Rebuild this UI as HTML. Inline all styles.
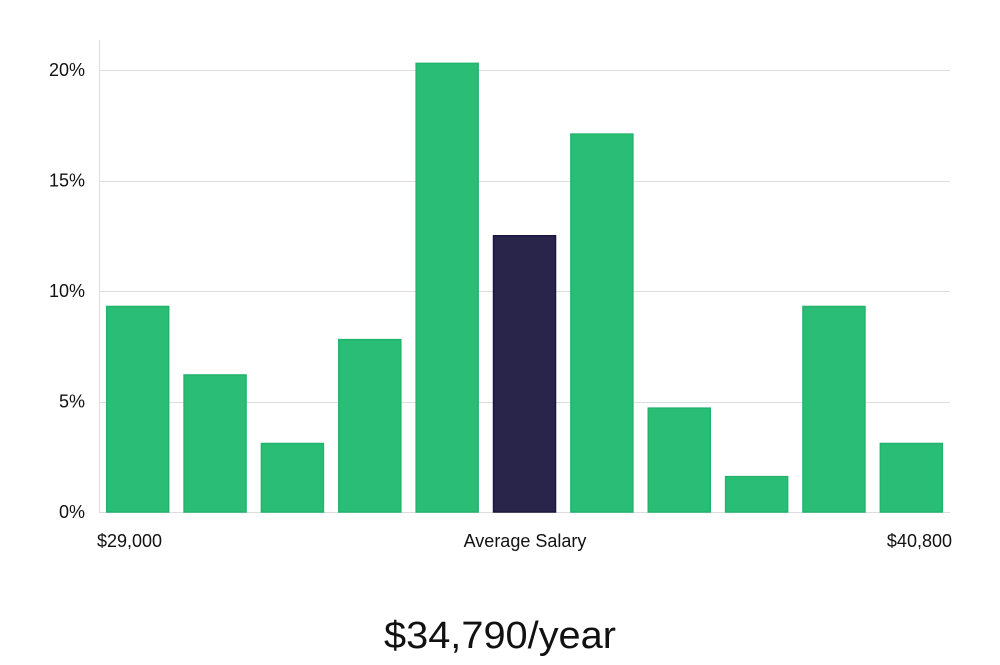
<!DOCTYPE html>
<html><head><meta charset="utf-8"><style>
body{margin:0;background:#fff;width:1000px;height:660px;overflow:hidden;font-family:"Liberation Sans",sans-serif}
</style></head><body>
<svg width="1000" height="660">
<g id="grid"></g>
<line x1="99.5" y1="40" x2="99.5" y2="512" stroke="#ddd"/>
<g id="bars"></g>
<g id="ticks"></g>
<text x="97" y="547" font-size="18" fill="#111">$29,000</text>
<text x="525" y="547" font-size="18" fill="#111" text-anchor="middle">Average Salary</text>
<text x="952" y="547" font-size="18" fill="#111" text-anchor="end">$40,800</text>
<text x="500" y="648" font-size="38" fill="#111" text-anchor="middle" textLength="232" lengthAdjust="spacingAndGlyphs">$34,790/year</text>
</svg>
<script>
const values=[9.3,6.2,3.1,7.8,20.3,12.5,17.1,4.7,1.6,9.3,3.1];
const highlight=[0,0,0,0,0,1,0,0,0,0,0];
const tickValues=[0,5,10,15,20];
const tickLabels=["0%","5%","10%","15%","20%"];
const ns="http://www.w3.org/2000/svg";
const x0=99,x1=950,yBase=512,yTop=70;
function y(v){return yBase-(yBase-yTop)*v/20;}
const band=(x1-x0)/values.length;
function bx(i){return x0+band*i+7.7;}
const grid=document.getElementById('grid'),ticks=document.getElementById('ticks'),bars=document.getElementById('bars');
tickValues.forEach((t,i)=>{
 const l=document.createElementNS(ns,'line');
 l.setAttribute('x1',x0);l.setAttribute('x2',x1);l.setAttribute('y1',Math.round(y(t))+0.5);l.setAttribute('y2',Math.round(y(t))+0.5);
 l.setAttribute('stroke','#ddd');
 
 
 grid.appendChild(l);
 const tx=document.createElementNS(ns,'text');
 tx.setAttribute('x',85);tx.setAttribute('y',y(t)+6);tx.setAttribute('text-anchor','end');tx.setAttribute('font-size','18');tx.setAttribute('fill','#111');
 tx.textContent=tickLabels[i];
 
 
 ticks.appendChild(tx);
});
values.forEach((v,i)=>{
 const r=document.createElementNS(ns,'rect');
 r.setAttribute('x',bx(i));r.setAttribute('y',y(v));r.setAttribute('width',62);r.setAttribute('height',yBase-y(v));
 r.setAttribute('fill',highlight[i]?'#29244a':'#2abd76');
 r.setAttribute('stroke',highlight[i]?'#1a1640':'#22b46c');r.setAttribute('stroke-width','1.5');
 
 
 bars.appendChild(r);
});
</script>
</body></html>
